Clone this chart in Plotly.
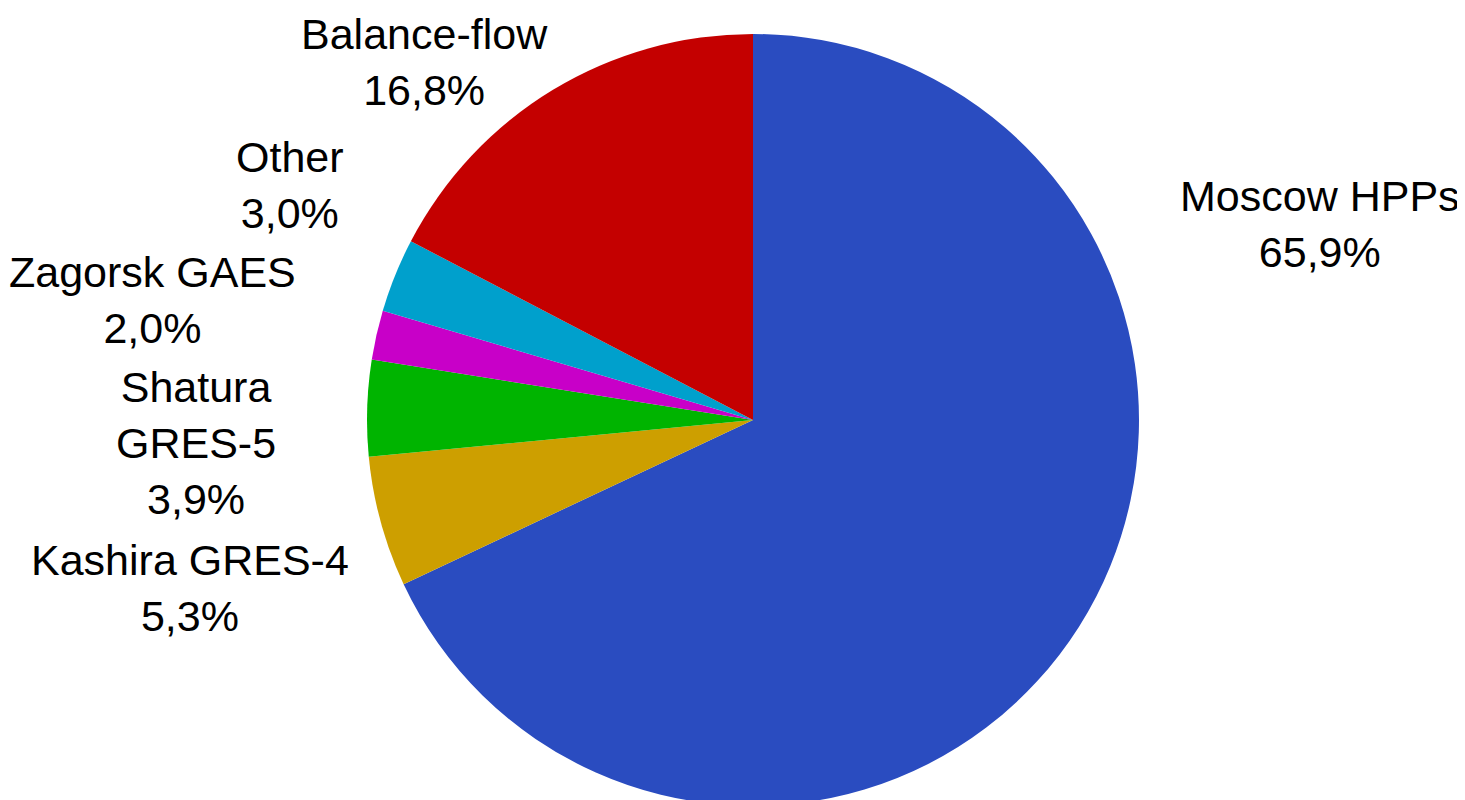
import plotly.graph_objects as go

categories = ["Moscow HPPs", "Kashira GRES-4", "Shatura<br>GRES-5", "Zagorsk GAES", "Other", "Balance-flow"]
values = [65.9, 5.3, 3.9, 2.0, 3.0, 16.8]
value_labels = ["65,9%", "5,3%", "3,9%", "2,0%", "3,0%", "16,8%"]
colors = ["#2a4cc0", "#cd9f00", "#00b400", "#c800c8", "#00a0cc", "#c40000"]

W, H = 1465, 800
OFF = 8  # page body margin offset

# label block centres in screen px -- layout only
label_px = [(1320, 224), (190, 588), (196, 443), (152, 300), (290, 185), (424, 62)]

cx, cy, r = 753 - OFF, 420 - OFF, 386

fig = go.Figure(go.Pie(
    labels=categories,
    values=values,
    sort=False,
    direction="clockwise",
    rotation=0,
    marker=dict(colors=colors, line=dict(width=0)),
    textinfo="none",
    hoverinfo="label+value",
    showlegend=False,
    domain=dict(x=[(cx - r) / W, (cx + r) / W],
                y=[max(0, 1 - (cy + r) / H), min(1, 1 - (cy - r) / H)]),
))

for name, txt, (px, py) in zip(categories, value_labels, label_px):
    fig.add_annotation(
        x=(px - OFF) / W, y=1 - (py - OFF) / H, xref="paper", yref="paper",
        text=f"{name}<br>{txt}", showarrow=False,
        xanchor="center", yanchor="middle", align="center", borderpad=0,
        font=dict(family="Liberation Sans, Arial, sans-serif", size=43, color="black"),
    )

fig.update_layout(
    width=W, height=H,
    margin=dict(l=0, r=0, t=0, b=0),
    paper_bgcolor="white", plot_bgcolor="white",
)

fig.write_html("out.html")
